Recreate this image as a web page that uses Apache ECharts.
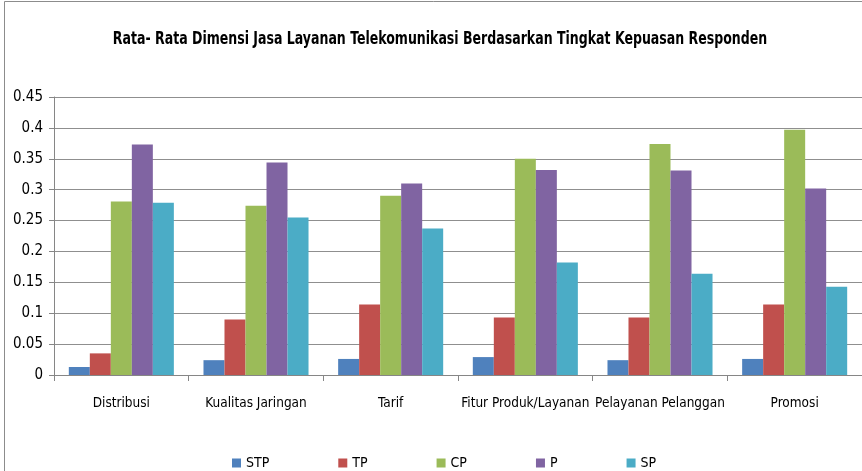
<!DOCTYPE html>
<html>
<head>
<meta charset="utf-8">
<script src="https://cdn.jsdelivr.net/npm/echarts@6/dist/echarts.min.js"></script>
<style>
html,body{margin:0;padding:0;background:#fff;}
#main{width:862px;height:471px;}
</style>
</head>
<body>
<div id="main"></div>
<script>
const titleText = 'Rata- Rata Dimensi Jasa Layanan Telekomunikasi Berdasarkan Tingkat Kepuasan Responden';
const categories = ["Distribusi", "Kualitas Jaringan", "Tarif", "Fitur Produk/Layanan", "Pelayanan Pelanggan", "Promosi"];
const seriesNames = ['STP', 'TP', 'CP', 'P', 'SP'];
const STP = [0.013, 0.024, 0.026, 0.029, 0.024, 0.026];
const TP  = [0.035, 0.090, 0.114, 0.093, 0.093, 0.114];
const CP  = [0.281, 0.274, 0.290, 0.350, 0.374, 0.397];
const P   = [0.373, 0.344, 0.310, 0.332, 0.331, 0.302];
const SP  = [0.279, 0.255, 0.237, 0.182, 0.164, 0.143];
const yTicks = [0, 0.05, 0.1, 0.15, 0.2, 0.25, 0.3, 0.35, 0.4, 0.45];

const FONT = '"DejaVu Sans Condensed", "Liberation Sans Narrow", sans-serif';
const chart = echarts.init(document.getElementById('main'));
const colors = ['#4F81BD', '#C0504D', '#9BBB59', '#8064A2', '#4BACC6'];
const allData = [STP, TP, CP, P, SP];
chart.setOption({
  animation: false,
  backgroundColor: '#fff',
  graphic: [{
    type: 'rect', shape: { x: 4.5, y: 1.5, width: 900, height: 520 },
    style: { fill: 'none', stroke: '#8c8c8c', lineWidth: 1 }, silent: true, z: -1
  }, {
    type: 'text', x: 440, y: 39.5, scaleX: 0.775, silent: true,
    style: { text: titleText, fontFamily: FONT, fontSize: 18, fontWeight: 'bold', fill: '#000',
      align: 'center', verticalAlign: 'middle' }
  }],
  legend: {
    top: 451, left: 227, itemGap: 69, itemWidth: 9, itemHeight: 9, icon: 'rect',
    textStyle: { fontFamily: FONT, fontSize: 14, color: '#000' },
    data: seriesNames
  },
  grid: { left: 54, top: 97, width: 810, height: 278, containLabel: false },
  xAxis: {
    type: 'category', data: categories,
    axisLine: { lineStyle: { color: '#868686', width: 1 } },
    axisTick: { show: true, length: 6, lineStyle: { color: '#868686' } },
    axisLabel: { fontFamily: FONT, fontSize: 13.5, color: '#000', margin: 21, interval: 0 }
  },
  yAxis: {
    type: 'value', min: 0, max: 0.45, interval: 0.05,
    axisLine: { show: true, lineStyle: { color: '#868686' } },
    axisTick: { show: true, length: 5, lineStyle: { color: '#868686' } },
    axisLabel: { fontFamily: FONT, fontSize: 15, color: '#000', margin: 11,
      formatter: v => { const t = yTicks.find(x => Math.abs(x - v) < 1e-9); return String(t !== undefined ? t : v); } },
    splitLine: { lineStyle: { color: '#8f8f8f', width: 1 } }
  },
  series: seriesNames.map((name, i) => ({
    name, type: 'bar', data: allData[i], barGap: '0%', barCategoryGap: '22%',
    itemStyle: { color: colors[i] }
  }))
});
</script>
</body>
</html>
